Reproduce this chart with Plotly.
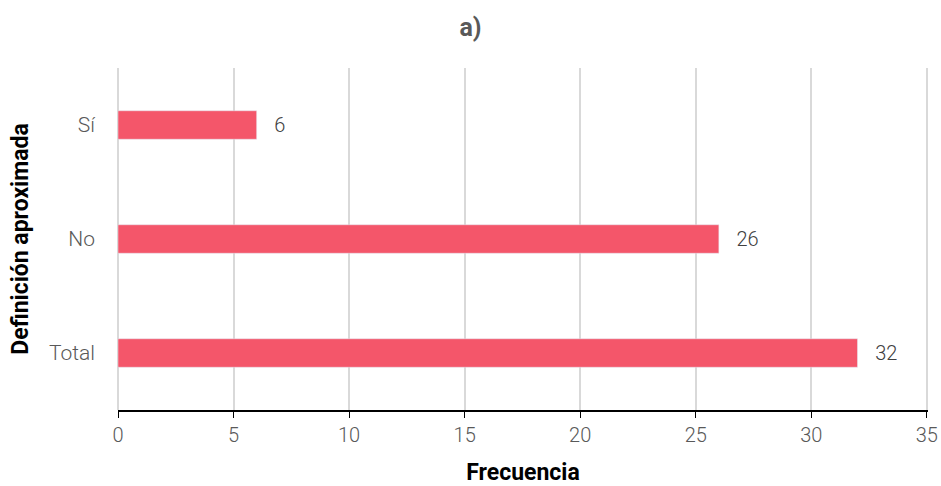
import plotly.graph_objects as go

categories = ["Total", "No", "Sí"]
values = [32, 26, 6]
x_ticks = [0, 5, 10, 15, 20, 25, 30, 35]

W, H = 941, 486

fig = go.Figure(go.Bar(
    x=values, y=categories, orientation="h",
    marker=dict(color="#F4566A"),
    width=0.25,
    text=["   " + str(v) for v in values], textposition="outside",
    textfont=dict(family="Roboto", size=20, color="#404040", weight=300),
    cliponaxis=False,
))

fig.update_layout(
    width=W, height=H,
    margin=dict(l=118, r=13, t=68, b=76, autoexpand=False),
    paper_bgcolor="white", plot_bgcolor="white",
    title=dict(text="a)", x=0.5, xanchor="center", xref="container",
               y=1 - 27 / H, yanchor="middle", yref="container",
               font=dict(family="Roboto", size=25, color="#595959", weight="bold")),
    showlegend=False,
)
fig.update_xaxes(
    range=[0, 35.05], tickvals=x_ticks, showgrid=True, gridcolor="#D9D9D9", gridwidth=1.5,
    zeroline=True, zerolinecolor="#D9D9D9", zerolinewidth=1.5,
    showline=True, linecolor="black", linewidth=1.5, ticks="outside", ticklen=6, tickcolor="black",
    tickfont=dict(family="Roboto", size=20, color="#595959", weight=300),
    ticklabeloverflow="allow",
    title=dict(text="Frecuencia", standoff=32,
               font=dict(family="Roboto", size=23, color="black", weight="bold")),
    automargin=False,
)
fig.update_yaxes(
    categoryorder="array", categoryarray=categories, range=[-0.5, 2.5],
    showgrid=False, showline=False, ticks="", ticklabelstandoff=22,
    tickfont=dict(family="Roboto", size=21, color="#595959", weight=300),
    title=dict(text="Definición aproximada", standoff=13,
               font=dict(family="Roboto", size=23, color="black", weight="bold")),
    automargin=False,
)

fig.write_html(
    "out.html",
    config={"displayModeBar": False},
    post_script="document.body.style.margin='0';document.body.style.overflow='hidden';",
)
